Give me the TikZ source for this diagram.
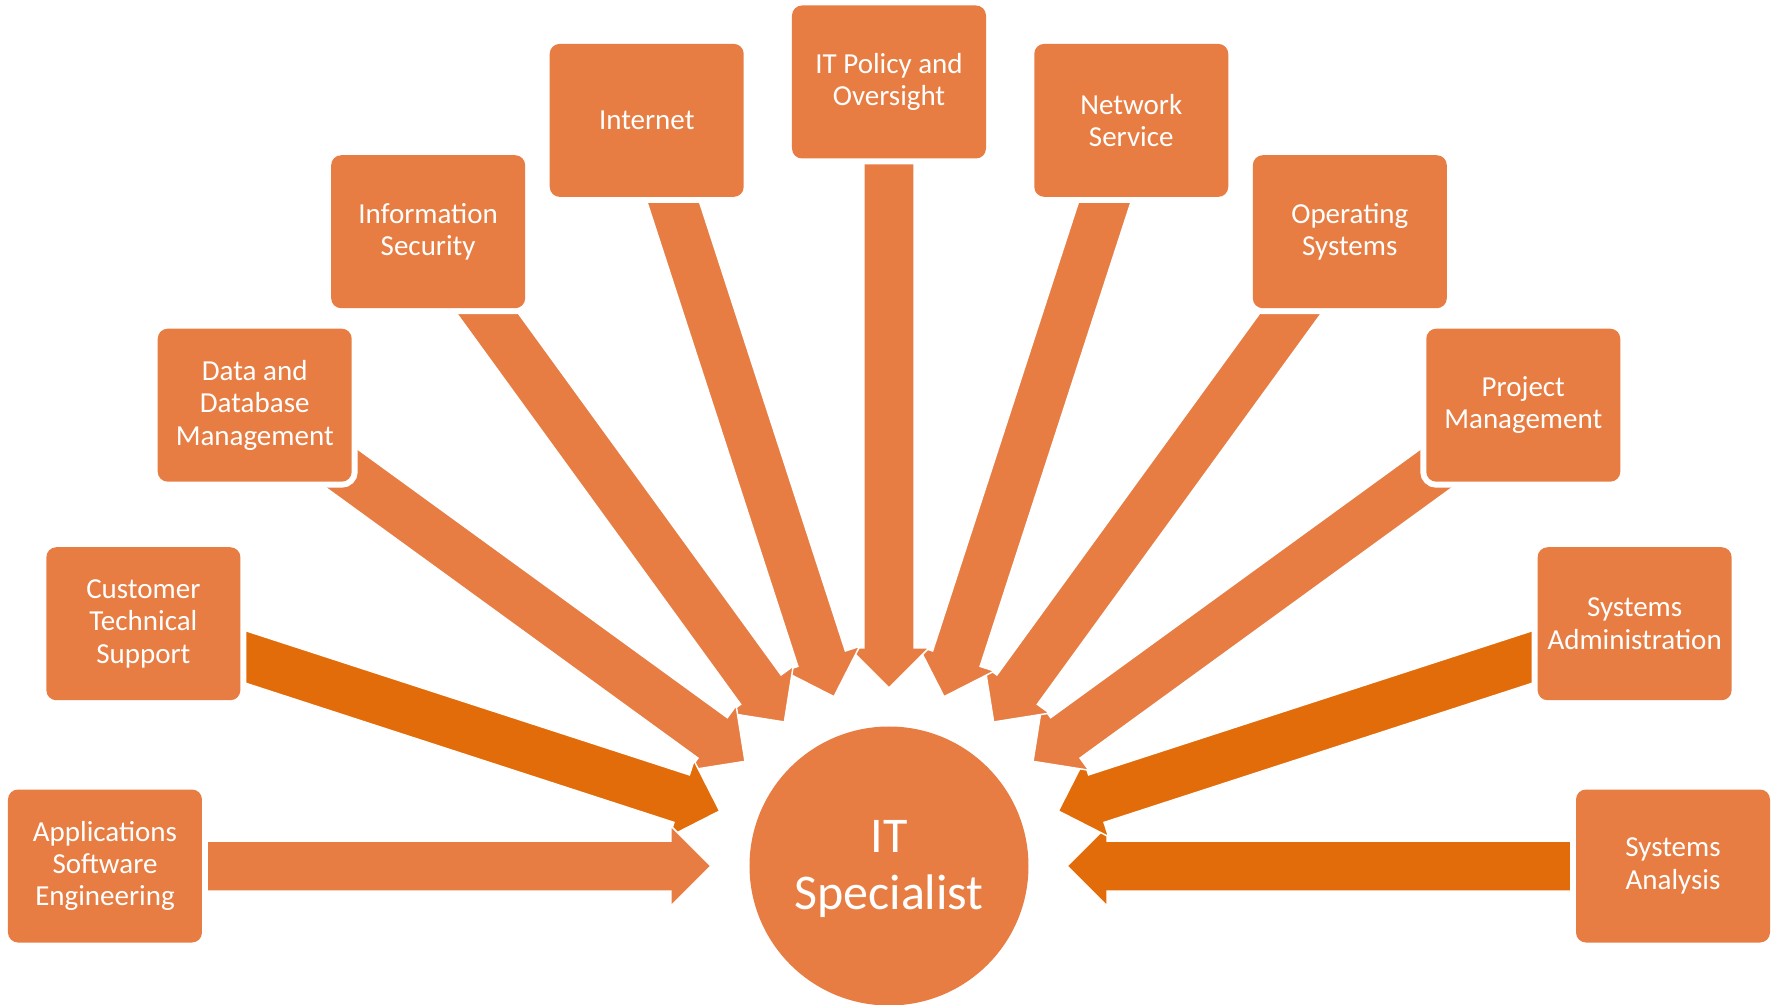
\documentclass[tikz,border=0pt]{standalone}
\usepackage{fontspec}
\setmainfont{Carlito}
\usetikzlibrary{calc,backgrounds}
\definecolor{topicorange}{RGB}{232,125,67}
\definecolor{deeporange}{RGB}{227,108,10}
\tikzset{
  topic/.style={rectangle, rounded corners=10pt, minimum width=194pt,
    minimum height=153pt, inner sep=4pt, fill=topicorange,
    preaction={draw=white, line width=12pt},
    text=white, align=center, font=\fontsize{29}{32.4}\selectfont},
  hub/.style={circle, minimum size=279pt, inner sep=0pt, fill=topicorange},
  hubtext/.style={text=white, align=center, font=\fontsize{50}{57}\selectfont},
  spoke/.style={fill=topicorange, draw=white, line width=1.5pt, line join=miter},
  deepspoke/.style={spoke, fill=deeporange},
}
% block arrow from the centre of a topic box to just short of the hub
\newcommand\spokearrow[2]{%
  \coordinate (#1-hb) at ($(hub)!218pt!(#1)$);
  \path[#2] ($(hub)!178pt!(#1)$)
    -- ($(#1-hb)!40pt!90:(#1)$) -- ($(#1-hb)!25pt!90:(#1)$)
    -- ($(#1)!25pt!-90:(#1-hb)$) -- ($(#1)!25pt!90:(#1-hb)$)
    -- ($(#1-hb)!25pt!-90:(#1)$) -- ($(#1-hb)!40pt!-90:(#1)$) -- cycle;
}
\begin{document}
\begin{tikzpicture}
\useasboundingbox (-889pt,-138pt) rectangle (883pt,866pt);
\node[hub] (hub) at (0,0) {};
\node[hubtext] (title) at (0pt,-3pt) {IT\\Specialist};

\node[topic] (analysis)  at (0:784pt)   {Systems\\Analysis};
\node[topic] (admin)     at (18:784pt)  {Systems\\Administration};
\node[topic] (project)   at (36:784pt)  {Project\\Management};
\node[topic] (os)        at (54:784pt)  {Operating\\Systems};
\node[topic] (network)   at (72:784pt)  {Network\\Service};
\node[topic] (policy)    at (90:784pt)  {IT Policy and\\Oversight};
\node[topic] (internet)  at (108:784pt) {Internet};
\node[topic] (security)  at (126:784pt) {Information\\Security};
\node[topic] (data)      at (144:784pt) {Data and\\Database\\Management};
\node[topic] (support)   at (162:784pt) {Customer\\Technical\\Support};
\node[topic] (apps)      at (180:784pt) {Applications\\Software\\Engineering};

\begin{pgfonlayer}{background}
  \spokearrow{analysis}{deepspoke}
  \spokearrow{admin}{deepspoke}
  \spokearrow{project}{spoke}
  \spokearrow{os}{spoke}
  \spokearrow{network}{spoke}
  \spokearrow{policy}{spoke}
  \spokearrow{internet}{spoke}
  \spokearrow{security}{spoke}
  \spokearrow{data}{spoke}
  \spokearrow{support}{deepspoke}
  \spokearrow{apps}{spoke}
\end{pgfonlayer}
\end{tikzpicture}
\end{document}
